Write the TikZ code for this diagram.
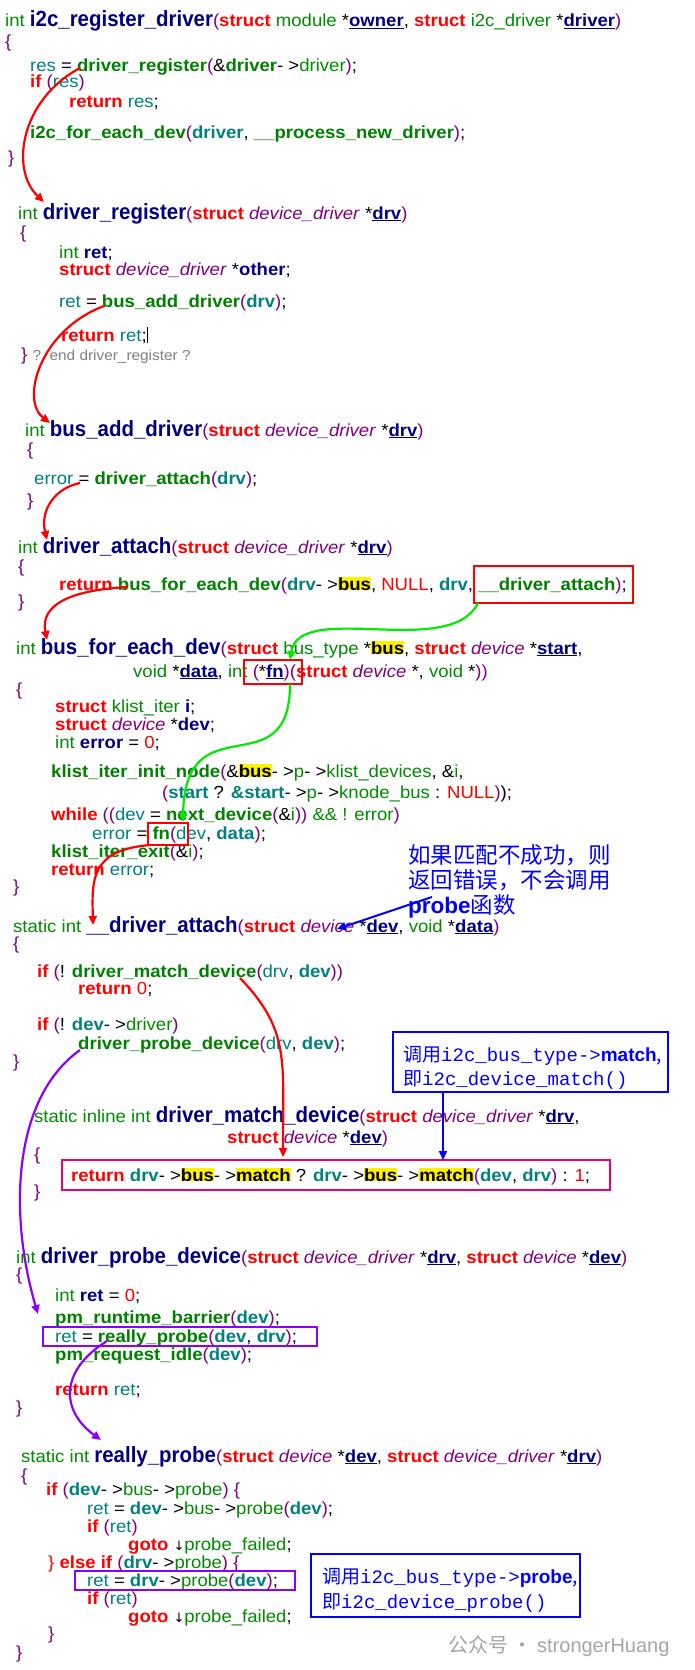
\documentclass[tikz,border=0pt]{standalone}
\usepackage{fontspec}
\usepackage{xcolor}
\usetikzlibrary{arrows.meta}
\setmainfont{Liberation Sans}
\newfontfamily\codefont[FakeStretch=1.06]{Liberation Sans}
\newfontfamily\headfont[FakeStretch=0.93]{Liberation Sans}
\newfontfamily\cjk{Noto Sans CJK SC}
\newfontfamily\monof{Liberation Mono}
\definecolor{kwc}{RGB}{255,0,0}
\definecolor{fnc}{RGB}{0,128,0}
\definecolor{tyc}{RGB}{0,140,0}
\definecolor{vac}{RGB}{0,128,128}
\definecolor{nvc}{RGB}{0,0,128}
\definecolor{puc}{RGB}{128,0,128}
\definecolor{arr}{RGB}{255,0,0}
\definecolor{grn}{RGB}{0,235,0}
\definecolor{blu}{RGB}{0,0,255}
\definecolor{vio}{RGB}{140,0,255}
\definecolor{pnk}{RGB}{235,0,110}
\newcommand\kw[1]{\textcolor{kwc}{\textbf{#1}}}
\newcommand\kr[1]{\textcolor{kwc}{#1}}
\newcommand\fnc[1]{\textcolor{fnc}{\textbf{#1}}}
\newcommand\ty[1]{\textcolor{tyc}{#1}}
\newcommand\va[1]{\textcolor{vac}{#1}}
\newcommand\vb[1]{\textcolor{vac}{\textbf{#1}}}
\newcommand\nb[1]{\textcolor{nvc}{\textbf{#1}}}
\newcommand\nvu[1]{\textcolor{nvc}{\textbf{\underline{#1}}}}
\newcommand\pit[1]{\textcolor{puc}{\textit{#1}}}
\newcommand\pp[1]{\textcolor{puc}{#1}}
\newcommand\hlt[1]{{\setlength{\fboxsep}{0pt}\colorbox{yellow}{\textbf{#1}}}}
\newcommand\hd[1]{{\headfont\fontsize{22}{25}\selectfont\textcolor{nvc}{\textbf{#1}}}}
\tikzset{
 code/.style={anchor=base west,inner sep=0pt,font=\codefont\fontsize{17.5}{20}\selectfont},
 note/.style={anchor=base west,inner sep=0pt,text=blu,font=\cjk\fontsize{19}{22}\selectfont},
 bignote/.style={anchor=base west,inner sep=0pt,text=blu,font=\cjk\fontsize{22.5}{26}\selectfont},
 rarr/.style={draw=arr,line width=2.2pt,-{Triangle[length=9pt,width=8pt]}},
 garr/.style={draw=grn,line width=2.2pt,-{Triangle[length=9pt,width=8pt]}},
 barr/.style={draw=blu,line width=2pt,-{Triangle[length=9pt,width=8pt]}},
 varr/.style={draw=vio,line width=2.2pt,-{Triangle[length=9pt,width=8pt]}},
 rbox/.style={draw=kwc,line width=1.5pt},
 vbox/.style={draw=vio,line width=1.5pt},
}
\begin{document}
\begin{tikzpicture}[x=1pt,y=-1pt]
\useasboundingbox[fill=white] (0,0) rectangle (694,1670);
% i2c_register_driver
\node[code] (a0) at (5,27) {\ty{int} \hd{i2c\_register\_driver}\pp{(}\kw{struct} \ty{module} *\nvu{owner}, \kw{struct} \ty{i2c\_driver} *\nvu{driver}\pp{)}};
\node[code] (a1) at (5,48) {\pp{\{}};
\node[code] (a2) at (30,71) {\va{res} = \fnc{driver\_register}\pp{(}\&\fnc{driver}- >\ty{driver}\pp{)};};
\node[code] (a3) at (30,88) {\kw{if} \pp{(}\va{res}\pp{)}};
\node[code] (a4) at (69,107) {\kw{return} \va{res};};
\node[code] (a5) at (30,138) {\fnc{i2c\_for\_each\_dev}\pp{(}\vb{driver}, \fnc{\_\_process\_new\_driver}\pp{)};};
\node[code] (a6) at (8,163) {\pp{\}}};
% driver_register
\node[code] (b0) at (18,219) {\ty{int} \hd{driver\_register}\pp{(}\kw{struct} \pit{device\_driver} *\nvu{drv}\pp{)}};
\node[code] (b1) at (20,238) {\pp{\{}};
\node[code] (b2) at (59,258) {\ty{int} \nb{ret};};
\node[code] (b3) at (59,275) {\kw{struct} \pit{device\_driver} *\nb{other};};
\node[code] (b4) at (59,307) {\va{ret} = \fnc{bus\_add\_driver}\pp{(}\vb{drv}\pp{)};};
\node[code] (b5) at (61,341) {\kw{return} \va{ret};\rule[-2pt]{1.2pt}{16pt}};
\node[code] (b6) at (21,360) {\pp{\}} {\color{gray}\fontsize{14.5}{17}\selectfont ?\ \ end driver\_register ?}};
% bus_add_driver
\node[code] (c0) at (25,436) {\ty{int} \hd{bus\_add\_driver}\pp{(}\kw{struct} \pit{device\_driver} *\nvu{drv}\pp{)}};
\node[code] (c1) at (27,455) {\pp{\{}};
\node[code] (c2) at (34,484) {\va{error} = \fnc{driver\_attach}\pp{(}\vb{drv}\pp{)};};
\node[code] (c3) at (27,506) {\pp{\}}};
% driver_attach
\node[code] (d0) at (18,553) {\ty{int} \hd{driver\_attach}\pp{(}\kw{struct} \pit{device\_driver} *\nvu{drv}\pp{)}};
\node[code] (d1) at (18,572) {\pp{\{}};
\node[code] (d2) at (59,590) {\kw{return} \fnc{bus\_for\_each\_dev}\pp{(}\vb{drv}- >\hlt{bus}, \kr{NULL}, \vb{drv}, \fnc{\_\_driver\_attach}\pp{)};};
\node[code] (d3) at (18,607) {\pp{\}}};
% bus_for_each_dev
\node[code] (e0) at (16,654) {\ty{int} \hd{bus\_for\_each\_dev}\pp{(}\kw{struct} \ty{bus\_type} *\hlt{bus}, \kw{struct} \pit{device} *\nvu{start},};
\node[code] (e1) at (133,677) {\ty{void} *\nvu{data}, \ty{int} \pp{(}*\nvu{fn}\pp{)(}\kw{struct} \pit{device} *, \ty{void} *\pp{))}};
\node[code] (e2) at (16,695) {\pp{\{}};
\node[code] (e3) at (55,712) {\kw{struct} \ty{klist\_iter} \nb{i};};
\node[code] (e4) at (55,730) {\kw{struct} \pit{device} *\nb{dev};};
\node[code] (e5) at (55,748) {\ty{int} \nb{error} = \kr{0};};
\node[code] (e6) at (51,777) {\fnc{klist\_iter\_init\_node}\pp{(}\&\hlt{bus}- >\ty{p}- >\ty{klist\_devices}, \&\ty{i},};
\node[code] (e7) at (162,798) {\pp{(}\vb{start} ? \vb{\&start}- >\ty{p}- >\ty{knode\_bus} : \kr{NULL}\pp{)});};
\node[code] (e8) at (51,820) {\kw{while} \pp{((}\va{dev} = \fnc{next\_device}\pp{(}\&\ty{i}\pp{))} \ty{\&\& ! error}\pp{)}};
\node[code] (e9) at (92,839) {\va{error} = \fnc{fn}\pp{(}\va{dev}, \vb{data}\pp{)};};
\node[code] (e10) at (51,857) {\fnc{klist\_iter\_exit}\pp{(}\&\ty{i}\pp{)};};
\node[code] (e11) at (51,875) {\kw{return} \va{error};};
\node[code] (e12) at (13,892) {\pp{\}}};
% __driver_attach
\node[code] (f0) at (13,932) {\ty{static int} \hd{\_\_driver\_attach}\pp{(}\kw{struct} \pit{device} *\nvu{dev}, \ty{void} *\nvu{data}\pp{)}};
\node[code] (f1) at (13,949) {\pp{\{}};
\node[code] (f2) at (37,977) {\kw{if} \pp{(}! \fnc{driver\_match\_device}\pp{(}\va{drv}, \vb{dev}\pp{))}};
\node[code] (f3) at (78,994) {\kw{return} \kr{0};};
\node[code] (f4) at (37,1030) {\kw{if} \pp{(}! \vb{dev}- >\ty{driver}\pp{)}};
\node[code] (f5) at (78,1049) {\fnc{driver\_probe\_device}\pp{(}\va{drv}, \vb{dev}\pp{)};};
\node[code] (f6) at (13,1067) {\pp{\}}};
% driver_match_device
\node[code] (g0) at (34,1122) {\ty{static inline int} \hd{driver\_match\_device}\pp{(}\kw{struct} \pit{device\_driver} *\nvu{drv},};
\node[code] (g1) at (227,1143) {\kw{struct} \pit{device} *\nvu{dev}\pp{)}};
\node[code] (g2) at (34,1160) {\pp{\{}};
\node[code] (g3) at (71,1181) {\kw{return} \vb{drv}- >\hlt{bus}- >\hlt{match} ? \vb{drv}- >\hlt{bus}- >\hlt{match}\pp{(}\vb{dev}, \vb{drv}\pp{)} : \kr{1};};
\node[code] (g4) at (34,1197) {\pp{\}}};
% driver_probe_device
\node[code] (h0) at (16,1263) {\ty{int} \hd{driver\_probe\_device}\pp{(}\kw{struct} \pit{device\_driver} *\nvu{drv}, \kw{struct} \pit{device} *\nvu{dev}\pp{)}};
\node[code] (h1) at (16,1280) {\pp{\{}};
\node[code] (h2) at (55,1301) {\ty{int} \nb{ret} = \kr{0};};
\node[code] (h3) at (55,1323) {\fnc{pm\_runtime\_barrier}\pp{(}\vb{dev}\pp{)};};
\node[code] (h4) at (55,1342) {\va{ret} = \fnc{really\_probe}\pp{(}\vb{dev}, \vb{drv}\pp{)};};
\node[code] (h5) at (55,1360) {\fnc{pm\_request\_idle}\pp{(}\vb{dev}\pp{)};};
\node[code] (h6) at (55,1395) {\kw{return} \va{ret};};
\node[code] (h7) at (16,1413) {\pp{\}}};
% really_probe
\node[code] (i0) at (21,1462) {\ty{static int} \hd{really\_probe}\pp{(}\kw{struct} \pit{device} *\nvu{dev}, \kw{struct} \pit{device\_driver} *\nvu{drv}\pp{)}};
\node[code] (i1) at (21,1481) {\pp{\{}};
\node[code] (i2) at (46,1495) {\kw{if} \pp{(}\vb{dev}- >\ty{bus}- >\ty{probe}\pp{) \{}};
\node[code] (i3) at (87,1514) {\va{ret} = \vb{dev}- >\ty{bus}- >\ty{probe}\pp{(}\vb{dev}\pp{)};};
\node[code] (i4) at (87,1532) {\kw{if} \pp{(}\va{ret}\pp{)}};
\node[code] (i5) at (128,1550) {\kw{goto} {\fontspec{DejaVu Sans}\fontsize{13}{15}\selectfont↓}\ty{probe\_failed};};
\node[code] (i6) at (48,1568) {\kr{\}} \kw{else if} \pp{(}\vb{drv}- >\ty{probe}\pp{) \{}};
\node[code] (i7) at (87,1586) {\va{ret} = \vb{drv}- >\ty{probe}\pp{(}\vb{dev}\pp{)};};
\node[code] (i8) at (87,1604) {\kw{if} \pp{(}\va{ret}\pp{)}};
\node[code] (i9) at (128,1622) {\kw{goto} {\fontspec{DejaVu Sans}\fontsize{13}{15}\selectfont↓}\ty{probe\_failed};};
\node[code] (i10) at (48,1639) {\pp{\}}};
\node[code] (i11) at (16,1658) {\pp{\}}};
% boxes
\draw[rbox] (474,566) rectangle (633,603);
\draw[rbox] (244,660) rectangle (302,684);
\draw[rbox] (148,823) rectangle (188,845);
\draw[draw=pnk,line width=1.5pt] (62,1160) rectangle (610,1190);
\draw[vbox] (43,1327) rectangle (317,1346);
\draw[vbox] (75,1571) rectangle (295,1590);
\node[draw=blu,line width=2pt,inner sep=0pt,minimum width=275pt,minimum height=60pt] (nb1) at (530.5,1062) {};
\node[note] (nb1a) at (403,1061) {调用{\monof i2c\_bus\_type->}{\fontspec{Liberation Sans}\bfseries match},};
\node[note] (nb1b) at (403,1085) {即{\monof i2c\_device\_match()}};
\node[draw=blu,line width=2pt,inner sep=0pt,minimum width=269pt,minimum height=63pt] (nb2) at (445.5,1585.5) {};
\node[note] (nb2a) at (322,1583) {调用{\monof i2c\_bus\_type->}{\fontspec{Liberation Sans}\bfseries probe},};
\node[note] (nb2b) at (322,1608) {即{\monof i2c\_device\_probe()}};
\node[bignote] (n3a) at (408,863) {如果匹配不成功，则};
\node[bignote] (n3b) at (408,888) {返回错误，不会调用};
\node[bignote] (n3c) at (408,913) {{\fontspec{Liberation Sans}\bfseries probe}函数};
\node[anchor=base west,inner sep=0pt,text=gray!70,font=\cjk\fontsize{20}{23}\selectfont] (wm) at (448,1652) {公众号 · {\fontspec{Liberation Sans}strongerHuang}};
% arrow endpoints
\coordinate (p1) at (80,68); \coordinate (q1) at (44,202);
\coordinate (p2) at (104,306); \coordinate (q2) at (50,423);
\coordinate (p3) at (80,483); \coordinate (q3) at (47,540);
\coordinate (p4) at (128,587); \coordinate (q4) at (47,640);
\coordinate (p5) at (478,603); \coordinate (q5) at (290,660);
\coordinate (p6) at (290,684); \coordinate (q6) at (183,822);
\coordinate (p7) at (150,845); \coordinate (q7) at (93,925);
\coordinate (p8) at (432,897); \coordinate (q8) at (337,929);
\coordinate (p9) at (240,978); \coordinate (q9) at (283,1157);
\coordinate (p10) at (443,1092); \coordinate (q10) at (443,1160);
\coordinate (p11) at (80,1050); \coordinate (q11) at (38,1314);
\coordinate (p12) at (107,1341); \coordinate (q12) at (101,1440);
\draw[rarr] (p1) .. controls (20,100) and (10,170) .. (q1);
\draw[rarr] (p2) .. controls (40,330) and (20,400) .. (q2);
\draw[rarr] (p3) .. controls (55,488) and (40,510) .. (q3);
\draw[rarr] (p4) .. controls (70,590) and (40,605) .. (q4);
\draw[garr] (p5) .. controls (450,660) and (300,600) .. (q5);
\draw[garr] (p6) .. controls (290,790) and (185,700) .. (q6);
\draw[rarr] (p7) .. controls (90,850) and (92,880) .. (q7);
\draw[barr] (p8) -- (q8);
\draw[rarr] (p9) .. controls (290,1030) and (283,1060) .. (q9);
\draw[barr] (p10) -- (q10);
\draw[varr] (p11) .. controls (10,1100) and (10,1220) .. (q11);
\draw[varr] (p12) .. controls (60,1370) and (60,1410) .. (q12);
\end{tikzpicture}
\end{document}
